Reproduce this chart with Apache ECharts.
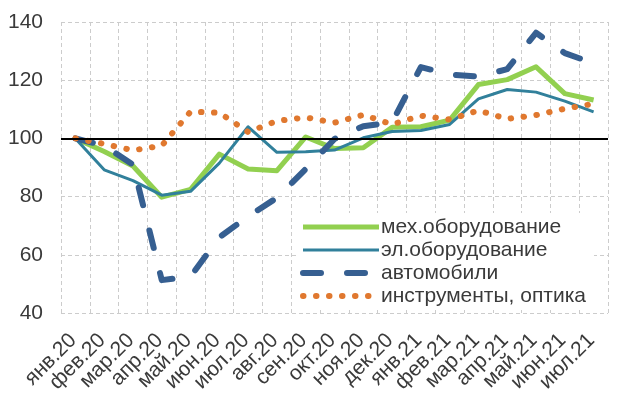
<!DOCTYPE html>
<html>
<head>
<meta charset="utf-8">
<script src="https://cdn.jsdelivr.net/npm/echarts@6/dist/echarts.min.js"></script>
<style>
  html, body { margin: 0; padding: 0; background: #fff; }
  #chart { width: 620px; height: 398px; }
</style>
</head>
<body>
<div id="chart"></div>
<script>
// месяцы
const months = ["янв.20", "фев.20", "мар.20", "апр.20", "май.20", "июн.20", "июл.20", "авг.20", "сен.20", "окт.20",
  "ноя.20", "дек.20", "янв.21", "фев.21", "мар.21", "апр.21", "май.21", "июн.21", "июл.21"];

// индексы, янв.20 = 100
const mechEquip = [100, 95.5, 90.5, 79.8, 82.5, 94.6, 89.5, 88.9, 100.5, 96.5, 96.8, 103.8, 104, 106.3, 118.5, 120.2, 124.6, 115.4, 113.2];
const elEquip = [100, 89.2, 85.5, 80.5, 81.8, 91.5, 104, 95.2, 95.4, 96, 100.2, 102.4, 102.7, 104.8, 113.6, 116.8, 115.9, 112.8, 109.1];
const cars = [100, 97.5, 91, 51.3, 52.5, 66, 73.2, 79.6, 89.5, 99.8, 104.2, 105.5, 124.5, 122, 121.2, 123.8, 136.3, 129.3, 125.8];
const instruments = [100, 98.1, 95.9, 97.5, 109.2, 108.8, 102.2, 106, 107.2, 105.4, 108.1, 104.8, 107.8, 106.5, 109.6, 106.7, 108, 110.2, 111.9];

const names = ["мех.оборудование", "эл.оборудование", "автомобили", "инструменты, оптика"];

const yTicks = { min: 40, max: 140, interval: 20 };
const baseLevel = 100;

const textColor = "#3a3a3a";
const gridColor = "#cccccc";

const chart = echarts.init(document.getElementById("chart"));

const lineSeries = (name, data, style) => ({
  name: name,
  type: "line",
  data: data,
  symbol: "none",
  z: 3,
  lineStyle: Object.assign({ join: "round" }, style),
  itemStyle: { color: style.color },
});

const option = {
  animation: false,
  grid: {
    left: 61,
    right: 12,
    top: 22,
    bottom: 85,
  },
  legend: {
    data: names,
    orient: "vertical",
    left: 298,
    top: 213,
    backgroundColor: "#ffffff",
    padding: [3, 8, 3, 2],
    itemWidth: 76,
    itemHeight: 12,
    itemGap: 1,
    itemStyle: { opacity: 0 }, // без кружков в легенде
    lineStyle: { width: "inherit" },
    textStyle: {
      fontFamily: "Liberation Sans, Arial, sans-serif",
      fontSize: 21,
      color: textColor,
      padding: [0, 0, 0, -3],
      lineHeight: 22,
    },
  },
  xAxis: {
    type: "category",
    data: months,
    boundaryGap: true,
    axisLine: { show: false },
    axisTick: { show: false },
    axisLabel: {
      interval: 0,
      rotate: 45,
      margin: 22,
      padding: [0, 3, 0, 0],
      fontSize: 21,
      fontFamily: "Liberation Sans, Arial, sans-serif",
      color: textColor,
    },
    splitLine: {
      show: true,
      interval: 0,
      lineStyle: { color: gridColor, type: [4, 3], width: 1 },
    },
  },
  yAxis: {
    type: "value",
    min: yTicks.min,
    max: yTicks.max,
    interval: yTicks.interval,
    axisLine: { show: false },
    axisTick: { show: false },
    axisLabel: {
      margin: 18,
      fontSize: 21,
      fontFamily: "Liberation Sans, Arial, sans-serif",
      color: textColor,
    },
    splitLine: {
      lineStyle: { color: gridColor, type: [4, 3], width: 1 },
    },
  },
  series: [
    // черная линия на уровне 100
    {
      name: "base",
      type: "line",
      data: [],
      z: 1,
      markLine: {
        silent: true,
        symbol: "none",
        label: { show: false },
        lineStyle: { color: "#000000", width: 2, type: "solid" },
        data: [{ yAxis: baseLevel }],
      },
    },
    lineSeries(names[0], mechEquip, { color: "#92d050", width: 5 }),
    lineSeries(names[1], elEquip, { color: "#31809b", width: 3 }),
    lineSeries(names[2], cars, { color: "#365f91", width: 6, type: [18, 26], cap: "round" }),
    lineSeries(names[3], instruments, { color: "#e0782f", width: 6, type: [0.5, 12.5], cap: "round" }),
  ],
};

chart.setOption(option);
window.addEventListener("resize", function () {
  chart.resize();
});
</script>
</body>
</html>
